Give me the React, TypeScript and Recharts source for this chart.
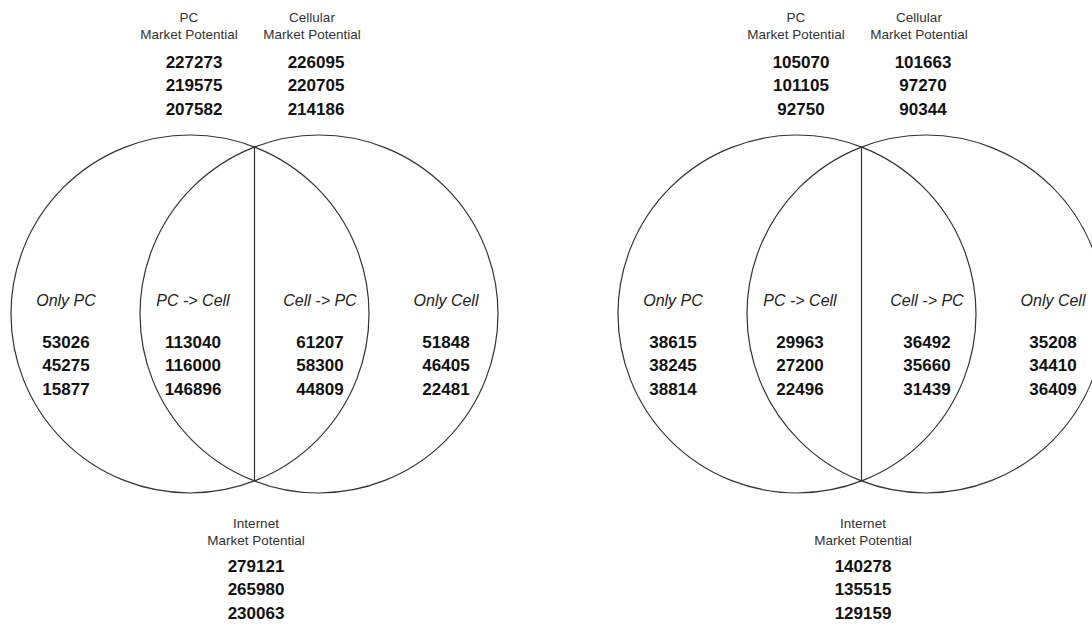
import { ScatterChart, Scatter, XAxis, YAxis, ReferenceLine } from 'recharts';

const CHART_W = 1092;
const CHART_H = 627;

// labels
const potentialHeaders = ['PC', 'Cellular'];
const bottomHeader = 'Internet';
const subHeader = 'Market Potential';
const regionLabels = ['Only PC', 'PC -> Cell', 'Cell -> PC', 'Only Cell'];

// left diagram
const pcPotentialA = [227273, 219575, 207582];
const cellPotentialA = [226095, 220705, 214186];
const internetPotentialA = [279121, 265980, 230063];
const onlyPcA = [53026, 45275, 15877];
const pcToCellA = [113040, 116000, 146896];
const cellToPcA = [61207, 58300, 44809];
const onlyCellA = [51848, 46405, 22481];

// right diagram
const pcPotentialB = [105070, 101105, 92750];
const cellPotentialB = [101663, 97270, 90344];
const internetPotentialB = [140278, 135515, 129159];
const onlyPcB = [38615, 38245, 38814];
const pcToCellB = [29963, 27200, 22496];
const cellToPcB = [36492, 35660, 31439];
const onlyCellB = [35208, 34410, 36409];

const diagrams = [
  { heads: [pcPotentialA, cellPotentialA], internet: internetPotentialA, regions: [onlyPcA, pcToCellA, cellToPcA, onlyCellA] },
  { heads: [pcPotentialB, cellPotentialB], internet: internetPotentialB, regions: [onlyPcB, pcToCellB, cellToPcB, onlyCellB] },
];

// layout (in chart units, 1 unit = 1px)
const OFFSETS = [0, 607];
const CIRCLE_R = 179;
const CIRCLE_CY = 314;
const CIRCLE_CX = [190, 319];
const HEAD_LABEL_X = [189, 312];
const HEAD_X = [194, 316];
const REGION_X = [66, 193, 320, 446];
const BOTTOM_X = 256;
const HEAD_Y = [17, 34];
const HEAD_NUM_Y = 62;
const ROW_STEP = 23.5;
const REGION_LABEL_Y = 300;
const REGION_NUM_Y = 342;
const BOTTOM_HEAD_Y = [523, 540];
const BOTTOM_NUM_Y = 566;

const PX_PER_UNIT = CHART_W / CHART_W;

type TextItem = { x: number; y: number; text: string; kind: 'head' | 'num' | 'region' };

const circles = OFFSETS.flatMap((off) => CIRCLE_CX.map((cx) => ({ x: cx + off, y: CIRCLE_CY, r: CIRCLE_R })));

const half = (CIRCLE_CX[1] - CIRCLE_CX[0]) / 2;
const chordHalf = Math.sqrt(CIRCLE_R * CIRCLE_R - half * half);
const chords = OFFSETS.map((off) => ({
  x: CIRCLE_CX[0] + half + off,
  y1: CIRCLE_CY - chordHalf,
  y2: CIRCLE_CY + chordHalf,
}));

const texts: TextItem[] = [];
diagrams.forEach((d, di) => {
  const off = OFFSETS[di];
  d.heads.forEach((vals, i) => {
    texts.push({ x: HEAD_LABEL_X[i] + off, y: HEAD_Y[0], text: potentialHeaders[i], kind: 'head' });
    texts.push({ x: HEAD_LABEL_X[i] + off, y: HEAD_Y[1], text: subHeader, kind: 'head' });
    vals.forEach((v, j) => texts.push({ x: HEAD_X[i] + off, y: HEAD_NUM_Y + j * ROW_STEP, text: String(v), kind: 'num' }));
  });
  d.regions.forEach((vals, i) => {
    texts.push({ x: REGION_X[i] + off, y: REGION_LABEL_Y, text: regionLabels[i], kind: 'region' });
    vals.forEach((v, j) => texts.push({ x: REGION_X[i] + off, y: REGION_NUM_Y + j * ROW_STEP, text: String(v), kind: 'num' }));
  });
  texts.push({ x: BOTTOM_X + off, y: BOTTOM_HEAD_Y[0], text: bottomHeader, kind: 'head' });
  texts.push({ x: BOTTOM_X + off, y: BOTTOM_HEAD_Y[1], text: subHeader, kind: 'head' });
  d.internet.forEach((v, j) => texts.push({ x: BOTTOM_X + off, y: BOTTOM_NUM_Y + j * ROW_STEP, text: String(v), kind: 'num' }));
});

const textStyle = {
  head: { fontSize: 13.5, fontWeight: 400, fontStyle: 'normal', fill: '#333' },
  num: { fontSize: 17, fontWeight: 700, fontStyle: 'normal', fill: '#111' },
  region: { fontSize: 16, fontWeight: 400, fontStyle: 'italic', fill: '#222' },
};

const CircleShape = (props: any) => (
  <circle cx={props.cx} cy={props.cy} r={props.payload.r * PX_PER_UNIT} fill="none" stroke="#333" strokeWidth={1.2} />
);

const TextShape = (props: any) => {
  const item: TextItem = props.payload;
  const s = textStyle[item.kind];
  return (
    <text
      x={props.cx}
      y={props.cy}
      textAnchor="middle"
      dominantBaseline="central"
      fontFamily="'Liberation Sans', Arial, sans-serif"
      fontSize={s.fontSize}
      fontWeight={s.fontWeight}
      fontStyle={s.fontStyle}
      fill={s.fill}
    >
      {item.text}
    </text>
  );
};

export default function App() {
  return (
    <div style={{ position: 'absolute', left: 0, top: 0, width: CHART_W, height: CHART_H, background: '#fff' }}>
      <ScatterChart width={CHART_W} height={CHART_H} margin={{ top: 0, right: 0, bottom: 0, left: 0 }}>
        <XAxis type="number" dataKey="x" domain={[0, CHART_W]} allowDataOverflow hide />
        <YAxis type="number" dataKey="y" domain={[0, CHART_H]} allowDataOverflow reversed hide />
        <Scatter data={circles} shape={CircleShape} isAnimationActive={false} />
        {chords.map((c, i) => (
          <ReferenceLine
            key={i}
            segment={[{ x: c.x, y: c.y1 }, { x: c.x, y: c.y2 }]}
            stroke="#333"
            strokeWidth={1.2}
          />
        ))}
        <Scatter data={texts} shape={TextShape} isAnimationActive={false} />
      </ScatterChart>
    </div>
  );
}
